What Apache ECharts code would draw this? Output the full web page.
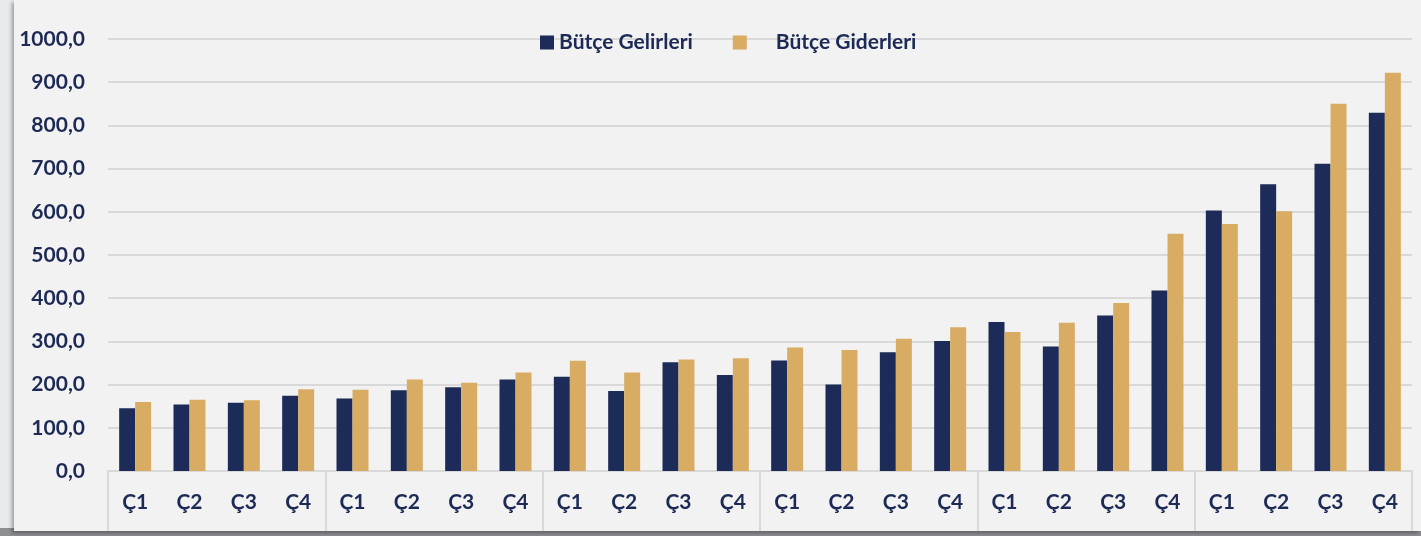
<!DOCTYPE html>
<html>
<head>
<meta charset="utf-8">
<script src="https://cdn.jsdelivr.net/npm/echarts@6/dist/echarts.min.js"></script>
<style>
    html, body {
        margin: 0;
        padding: 0;
        width: 1421px;
        height: 536px;
        overflow: hidden;
        background: #e8eaed;
    }
    #bottom-strip {
        position: absolute;
        left: 0;
        top: 528px;
        width: 1421px;
        height: 8px;
        background: #8d8f93;
    }
    #panel {
        position: absolute;
        left: 14px;
        top: 0;
        width: 1407px;
        height: 531px;
        background: #f2f2f2;
        box-shadow: -2px 2px 4px rgba(0, 0, 0, 0.35);
    }
    #chart-container {
        position: absolute;
        left: 0;
        top: 0;
        width: 1421px;
        height: 536px;
    }
</style>
</head>
<body>
<div id="bottom-strip"></div>
<div id="panel"></div>
<div id="chart-container"></div>
<script>
// çeyrekler (6 yıl x 4 çeyrek)
const quarters = [
    'Ç1', 'Ç2', 'Ç3', 'Ç4', 'Ç1', 'Ç2', 'Ç3', 'Ç4',
    'Ç1', 'Ç2', 'Ç3', 'Ç4', 'Ç1', 'Ç2', 'Ç3', 'Ç4',
    'Ç1', 'Ç2', 'Ç3', 'Ç4', 'Ç1', 'Ç2', 'Ç3', 'Ç4'
];

// Bütçe gelirleri
const gelirler = [
    145, 154, 158, 174, 168, 187, 194, 212,
    218, 185, 252, 222, 256, 200, 275, 301,
    345, 288, 360, 418, 603, 664, 711, 829
];

// Bütçe giderleri
const giderler = [
    160, 165, 164, 189, 188, 212, 204, 228,
    255, 228, 258, 261, 286, 280, 306, 333,
    322, 343, 389, 549, 572, 601, 850, 922
];

const textColor = '#1c2a55';
const fontFamily = 'Lato, "Open Sans", sans-serif';

const chart = echarts.init(document.getElementById('chart-container'));

const option = {
    backgroundColor: 'transparent',
    textStyle: { fontFamily: fontFamily },
    legend: {
        data: [
            { name: 'Bütçe Gelirleri' },
            // ikinci öğede ikon ile yazı arası daha geniş
            { name: 'Bütçe Giderleri', textStyle: { padding: [0, 0, 0, 24] } }
        ],
        left: 535,
        top: 27,
        icon: 'rect',
        itemWidth: 14,
        itemHeight: 14,
        itemGap: 40,
        textStyle: {
            fontSize: 21,
            fontWeight: 'bold',
            color: textColor,
            fontFamily: fontFamily
        }
    },
    grid: {
        left: 108,
        right: 9,
        top: 39,
        bottom: 65
    },
    xAxis: {
        type: 'category',
        data: quarters,
        axisLine: {
            lineStyle: { color: '#d9d9d9', width: 2 }
        },
        axisTick: {
            show: true,
            length: 60,
            interval: function (index) {
                return index % 4 === 0;
            },
            lineStyle: { color: '#d9d9d9', width: 2 }
        },
        axisLabel: {
            interval: 0,
            margin: 21,
            fontSize: 21,
            fontWeight: 'bold',
            color: textColor,
            fontFamily: fontFamily
        }
    },
    yAxis: {
        type: 'value',
        min: 0,
        max: 1000,
        interval: 100,
        axisLine: { show: false },
        axisTick: { show: false },
        splitLine: {
            lineStyle: { color: '#d9d9d9', width: 2 }
        },
        axisLabel: {
            margin: 23,
            fontSize: 21,
            fontWeight: 'bold',
            color: textColor,
            fontFamily: fontFamily,
            formatter: function (v) {
                return v.toFixed(1).replace('.', ',');
            }
        }
    },
    series: [
        {
            name: 'Bütçe Gelirleri',
            type: 'bar',
            data: gelirler,
            barWidth: 16,
            barGap: '0%',
            itemStyle: { color: '#1c2b57' }
        },
        {
            name: 'Bütçe Giderleri',
            type: 'bar',
            data: giderler,
            barWidth: 16,
            barGap: '0%',
            itemStyle: { color: '#d8ad63' }
        }
    ]
};

chart.setOption(option);
</script>
</body>
</html>
